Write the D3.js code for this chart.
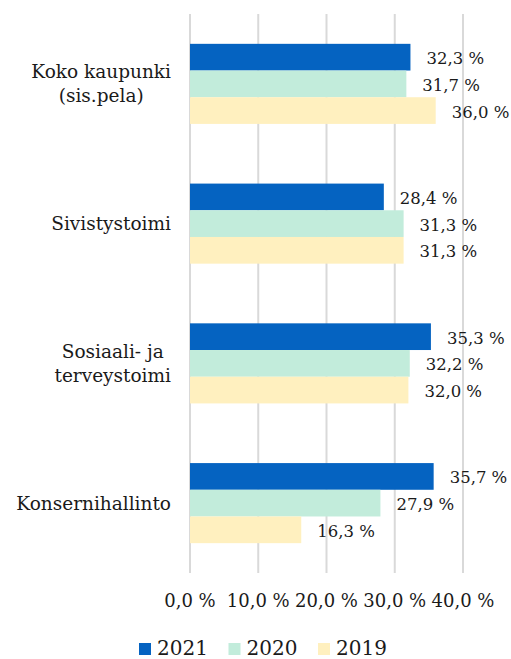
<!DOCTYPE html>
<html>
<head>
<meta charset="utf-8">
<script src="https://cdn.jsdelivr.net/npm/d3@7"></script>
<style>
  body { margin: 0; background: #fff; }
  text { font-family: "DejaVu Serif", serif; fill: #1a1a1a; }
</style>
</head>
<body>
<svg id="chart" width="511" height="659"></svg>
<script>
// data
var categories = ["Koko kaupunki\n(sis.pela)", "Sivistystoimi", "Sosiaali- ja\nterveystoimi", "Konsernihallinto"];
var years = ["2021", "2020", "2019"];
var v2021 = [32.3, 28.4, 35.3, 35.7];
var v2020 = [31.7, 31.3, 32.2, 27.9];
var v2019 = [36.0, 31.3, 32.0, 16.3];
var ticks = [0, 10, 20, 30, 40];
var colors = ["#0563c1", "#c2ecdb", "#fff0bf"];

var series = [v2021, v2020, v2019];
var svg = d3.select("#chart");

var x = d3.scaleLinear().domain([0, 40]).range([190, 463]);
var y = d3.scaleBand().domain(categories).range([14, 573])
    .paddingInner(0.427).paddingOuter(0.2135);
var yInner = d3.scaleBand().domain(years).range([0, y.bandwidth()]);

// gridlines
svg.append("g").selectAll("line")
    .data(ticks)
    .enter()
    .append("line")
    .attr("x1", d => x(d))
    .attr("x2", d => x(d))
    .attr("y1", 14)
    .attr("y2", 573)
    .attr("stroke", "#d9d9d9")
    .attr("stroke-width", 2);

// bars + value labels
series.forEach(function (vals, s) {
    var g = svg.append("g");
    g.selectAll("rect")
        .data(vals)
        .enter()
        .append("rect")
        .attr("x", x(0))
        .attr("y", (d, i) => y(categories[i]) + yInner(years[s]))
        .attr("width", d => x(d) - x(0))
        .attr("height", yInner.bandwidth())
        .attr("fill", colors[s]);

    g.selectAll("text")
        .data(vals)
        .enter()
        .append("text")
        .attr("x", d => x(d) + 16)
        .attr("y", (d, i) => y(categories[i]) + yInner(years[s]) + yInner.bandwidth() / 2 + 7)
        .attr("font-size", 16.5)
        .text(d => d.toFixed(1).replace(".", ",") + " %");
});

// category labels: block right-aligned, lines centred in the block
categories.forEach(function (c) {
    var lines = c.split("\n");
    var cy = y(c) + y.bandwidth() / 2;
    var t = svg.append("text").attr("font-size", 18.5).attr("text-anchor", "middle");
    lines.forEach(function (l, i) {
        t.append("tspan")
            .attr("y", cy + (i - (lines.length - 1) / 2) * 24 + 6.5)
            .text(l);
    });
    var w = d3.max(t.selectAll("tspan").nodes(), n => n.getComputedTextLength());
    t.selectAll("tspan").attr("x", 171 - w / 2);
});

// x axis tick labels
svg.append("g").selectAll("text")
    .data(ticks)
    .enter()
    .append("text")
    .attr("x", d => x(d))
    .attr("y", 607)
    .attr("text-anchor", "middle")
    .attr("font-size", 18)
    .text(d => d.toFixed(1).replace(".", ",") + " %");

// legend
var leg = svg.append("g").selectAll("g")
    .data(years)
    .enter()
    .append("g")
    .attr("transform", (d, i) => "translate(" + (139 + i * 89.5) + ",0)");
leg.append("rect")
    .attr("x", 0).attr("y", 643)
    .attr("width", 12).attr("height", 12)
    .attr("fill", (d, i) => colors[i]);
leg.append("text")
    .attr("x", 18).attr("y", 655)
    .attr("font-size", 20)
    .text(d => d);
</script>
</body>
</html>
